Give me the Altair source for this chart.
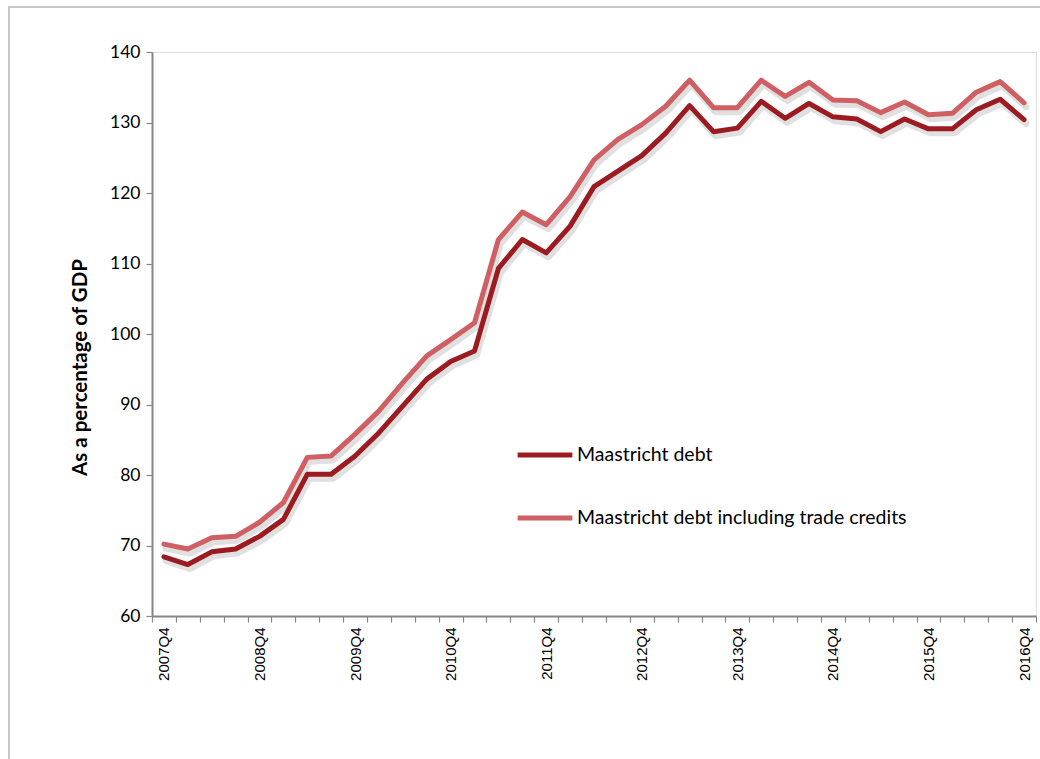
import altair as alt
import pandas as pd

quarters = [f"{y}Q{q}" for y in range(2007, 2017) for q in range(1, 5)][3:]  # 2007Q4 .. 2016Q4

maastricht = [68.4, 67.3, 69.1, 69.5, 71.3, 73.7, 80.1, 80.1, 82.7, 86.0,
              89.8, 93.6, 96.1, 97.6, 109.3, 113.4, 111.5, 115.3, 120.9, 123.1,
              125.3, 128.5, 132.4, 128.7, 129.2, 133.0, 130.6, 132.7, 130.8, 130.5,
              128.7, 130.5, 129.1, 129.1, 131.8, 133.3, 130.4]

with_trade = [70.2, 69.5, 71.1, 71.3, 73.3, 76.1, 82.5, 82.7, 85.8, 89.1,
              93.1, 96.9, 99.2, 101.6, 113.4, 117.3, 115.5, 119.5, 124.7, 127.6,
              129.7, 132.3, 136.0, 132.1, 132.1, 136.0, 133.7, 135.7, 133.2, 133.1,
              131.4, 132.9, 131.1, 131.3, 134.3, 135.8, 132.8]

series_names = ["Maastricht debt", "Maastricht debt including trade credits"]
series_colors = ["#9B1B20", "#CF5F63"]

rows = []
for q, a, b in zip(quarters, maastricht, with_trade):
    rows.append({"quarter": q, "value": a, "series": series_names[0]})
    rows.append({"quarter": q, "value": b, "series": series_names[1]})
df = pd.DataFrame(rows)

W, H = 884, 564

x_enc = alt.X("quarter:N", sort=quarters,
              scale=alt.Scale(type="band", paddingInner=0, paddingOuter=0),
              axis=alt.Axis(title=None, labelAngle=-90, tickBand="extent",
                            labelExpr="test(/Q4$/, datum.label) ? datum.label : ''"),
              bandPosition=0.5)
y_enc = alt.Y("value:Q",
              scale=alt.Scale(domain=[60, 140], nice=False, zero=False),
              axis=alt.Axis(title="As a percentage of GDP", values=list(range(60, 141, 10)),
                            titleX=-72, titleY=315,
                            titleAlign="center", titleBaseline="middle", titleAngle=270))

shadow = alt.Chart(df).mark_line(strokeWidth=7, strokeCap="round", strokeJoin="round",
                                 color="#000", opacity=0.12, xOffset=2, yOffset=4).encode(
    x=x_enc, y=y_enc, detail="series:N")

lines = alt.Chart(df).mark_line(strokeWidth=5, strokeCap="round", strokeJoin="round").encode(
    x=x_enc, y=y_enc,
    color=alt.Color("series:N", sort=series_names,
                    scale=alt.Scale(domain=series_names, range=series_colors),
                    legend=alt.Legend(title=None, orient="none", legendX=363, legendY=373,
                                      symbolType="stroke", symbolSize=3000, symbolStrokeWidth=5,
                                      labelFont="Lato", labelFontSize=19.5, labelColor="#000",
                                      labelLimit=0, rowPadding=23, labelOffset=2,
                                      symbolOffset=0)))

frame = alt.Chart(pd.DataFrame({"a": [0]})).mark_rect(
    fill=None, stroke="#c8c8c8", strokeWidth=2).encode(
    x=alt.value(-143), x2=alt.value(W + 20), y=alt.value(-45), y2=alt.value(H + 200))

chart = (
    alt.layer(frame, shadow, lines)
    .properties(
        width=W, height=H,
        padding={"left": 152, "top": 52, "right": 4, "bottom": 143},
        autosize=alt.AutoSizeParams(type="none"),
    )
    .configure_view(stroke=None)
    .configure(background="white")
    .configure_axis(domainColor="#868686", domainWidth=2, tickColor="#868686",
                    tickSize=6, tickWidth=1.2, grid=False, labelColor="#000")
    .configure_axisX(labelFont="Liberation Sans", labelFontSize=15, labelPadding=5)
    .configure_axisY(labelFont="Lato", labelFontSize=17.5, labelPadding=6,
                     titleFont="Lato", titleFontSize=20.5, titleFontWeight="bold",
                     titleColor="#000")
)

chart.save("out.html", embed_options={"renderer": "svg", "actions": False})
